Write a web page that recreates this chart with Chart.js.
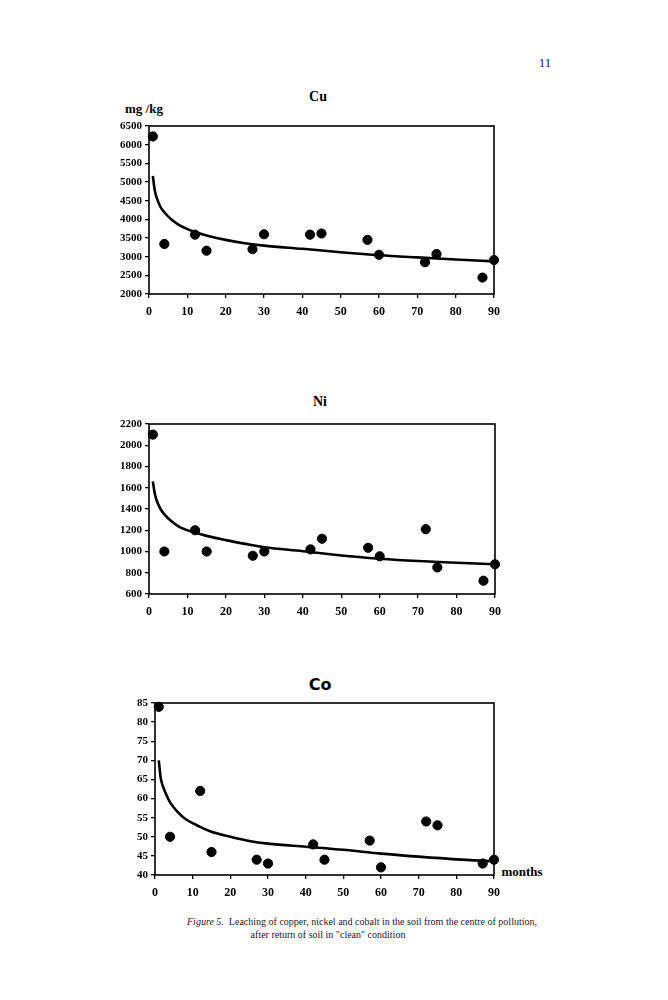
<!DOCTYPE html>
<html>
<head>
<meta charset="utf-8">
<script src="https://cdn.jsdelivr.net/npm/chart.js@4.4.1/dist/chart.umd.min.js"></script>
<style>
  body { margin: 0; background: #fff; }
  #page { position: relative; width: 668px; height: 1000px; overflow: hidden; background: #fff; }
  canvas { position: absolute; }
  .lbl { position: absolute; transform: translate(-50%, -50%); white-space: nowrap; color: #000; }
  .serif { font-family: "Liberation Serif", "DejaVu Serif", serif; }
</style>
</head>
<body>
<div id="page">
  <div class="lbl serif" style="left:545px; top:63px; font-size:13px; color:#222;">11</div>
  <div class="lbl serif" style="left:318px; top:97px; font-size:14px; font-weight:bold;">Cu</div>
  <div class="lbl serif" style="left:144px; top:109px; font-size:13px; font-weight:bold;">mg /kg</div>
  <div class="lbl serif" style="left:320px; top:402px; font-size:14px; font-weight:bold;">Ni</div>
  <div class="lbl" style="left:320px; top:684px; font-size:16px; font-weight:bold; font-family:'DejaVu Sans', sans-serif;">Co</div>
  <div class="lbl serif" style="left:522px; top:872px; font-size:13px; font-weight:bold;">months</div>
  <div class="lbl serif" style="left:362px; top:921px; font-size:10px; color:#222;"><i>Figure 5.</i>&nbsp; Leaching of copper, nickel and cobalt in the soil from the centre of pollution,</div>
  <div class="lbl serif" style="left:328px; top:934px; font-size:10px; color:#222;">after return of soil in "clean" condition</div>
  <canvas id="cu"></canvas>
  <canvas id="ni"></canvas>
  <canvas id="co"></canvas>
</div>
<script>
// sampling months and measured contents (mg/kg)
const MONTHS = [1, 4, 12, 15, 27, 30, 42, 45, 57, 60, 72, 75, 87, 90];
const CU = [6220, 3340, 3590, 3160, 3200, 3600, 3590, 3620, 3450, 3050, 2850, 3070, 2440, 2910];
const NI = [2100, 1000, 1200, 1000, 960, 1000, 1020, 1120, 1035, 955, 1210, 850, 725, 880];
const CO = [84, 50, 62, 46, 44, 43, 48, 44, 49, 42, 54, 53, 43, 44];

// trend curves
const FIT_MONTHS = [1, 1.5, 2, 3, 4, 6, 8, 12, 15, 20, 25, 30, 40, 50, 60, 70, 80, 90];
const CU_FIT = [5160, 4780, 4580, 4330, 4190, 3980, 3840, 3660, 3570, 3450, 3360, 3295, 3210, 3120, 3040, 2980, 2925, 2875];
const NI_FIT = [1660, 1545, 1480, 1400, 1350, 1280, 1230, 1178, 1147, 1107, 1072, 1040, 1003, 962, 932, 910, 894, 880];
const CO_FIT = [70, 65.5, 63.5, 61, 59, 56.5, 54.7, 52.6, 51.3, 50, 48.9, 48.2, 47.4, 46.6, 45.6, 44.8, 44.1, 43.6];

// axis ranges: min, max, step
const X_RANGE = [0, 90, 10];
const CU_RANGE = [2000, 6500, 500];
const NI_RANGE = [600, 2200, 200];
const CO_RANGE = [40, 85, 5];

const FONT = '"Liberation Serif", "DejaVu Serif", serif';
const Y_AXIS_W = 44;
const X_AXIS_H = 30;
const PAD_L = 50;
const PAD_T = 12;
const PAD_R = 30;
const PAD_B = 36;

// box round the plot area
const frame = {
  id: 'frame',
  beforeDatasetsDraw(chart) {
    const { ctx, chartArea: { left, top, right, bottom } } = chart;
    ctx.save();
    ctx.strokeStyle = '#000';
    ctx.lineWidth = 1.6;
    ctx.strokeRect(left, top, right - left, bottom - top);
    ctx.restore();
  },
};

const zip = (xs, ys) => xs.map((x, i) => ({ x, y: ys[i] }));

const axis = ([min, max, stepSize], size, padding, fit) => ({
  type: 'linear',
  min,
  max,
  ticks: {
    stepSize,
    color: '#000',
    padding,
    font: { family: FONT, weight: 'bold', size },
    callback: (v) => String(v), // no thousands separator
  },
  grid: { drawOnChartArea: false, drawTicks: true, tickLength: 4, color: '#000', lineWidth: 1.3 },
  border: { display: false },
  afterFit: fit,
});

const makeChart = (id, plot, values, fit, yRange) => {
  const canvas = document.getElementById(id);
  canvas.width = plot.right - plot.left + PAD_L + PAD_R;
  canvas.height = plot.bottom - plot.top + PAD_T + PAD_B;
  canvas.style.left = `${plot.left - PAD_L}px`;
  canvas.style.top = `${plot.top - PAD_T}px`;

  return new Chart(canvas, {
    type: 'scatter',
    data: {
      datasets: [
        {
          data: zip(MONTHS, values),
          backgroundColor: '#000',
          borderColor: '#000',
          pointRadius: 4.6,
          pointHoverRadius: 4.6,
          clip: false,
        },
        {
          data: zip(FIT_MONTHS, fit),
          showLine: true,
          borderColor: '#000',
          borderWidth: 2.6,
          pointRadius: 0,
          cubicInterpolationMode: 'monotone',
          fill: false,
        },
      ],
    },
    options: {
      responsive: false,
      animation: false,
      layout: {
        padding: { left: PAD_L - Y_AXIS_W, top: PAD_T, right: PAD_R, bottom: PAD_B - X_AXIS_H },
      },
      plugins: { legend: { display: false }, tooltip: { enabled: false } },
      scales: {
        x: axis(X_RANGE, 12, 7, (s) => { s.height = X_AXIS_H; }),
        y: axis(yRange, 11, 3, (s) => { s.width = Y_AXIS_W; }),
      },
    },
    plugins: [frame],
  });
};

makeChart('cu', { left: 148.5, top: 126, right: 494, bottom: 294 }, CU, CU_FIT, CU_RANGE);
makeChart('ni', { left: 149, top: 423.5, right: 495.5, bottom: 594 }, NI, NI_FIT, NI_RANGE);
makeChart('co', { left: 155, top: 703, right: 494, bottom: 875 }, CO, CO_FIT, CO_RANGE);
</script>
</body>
</html>
